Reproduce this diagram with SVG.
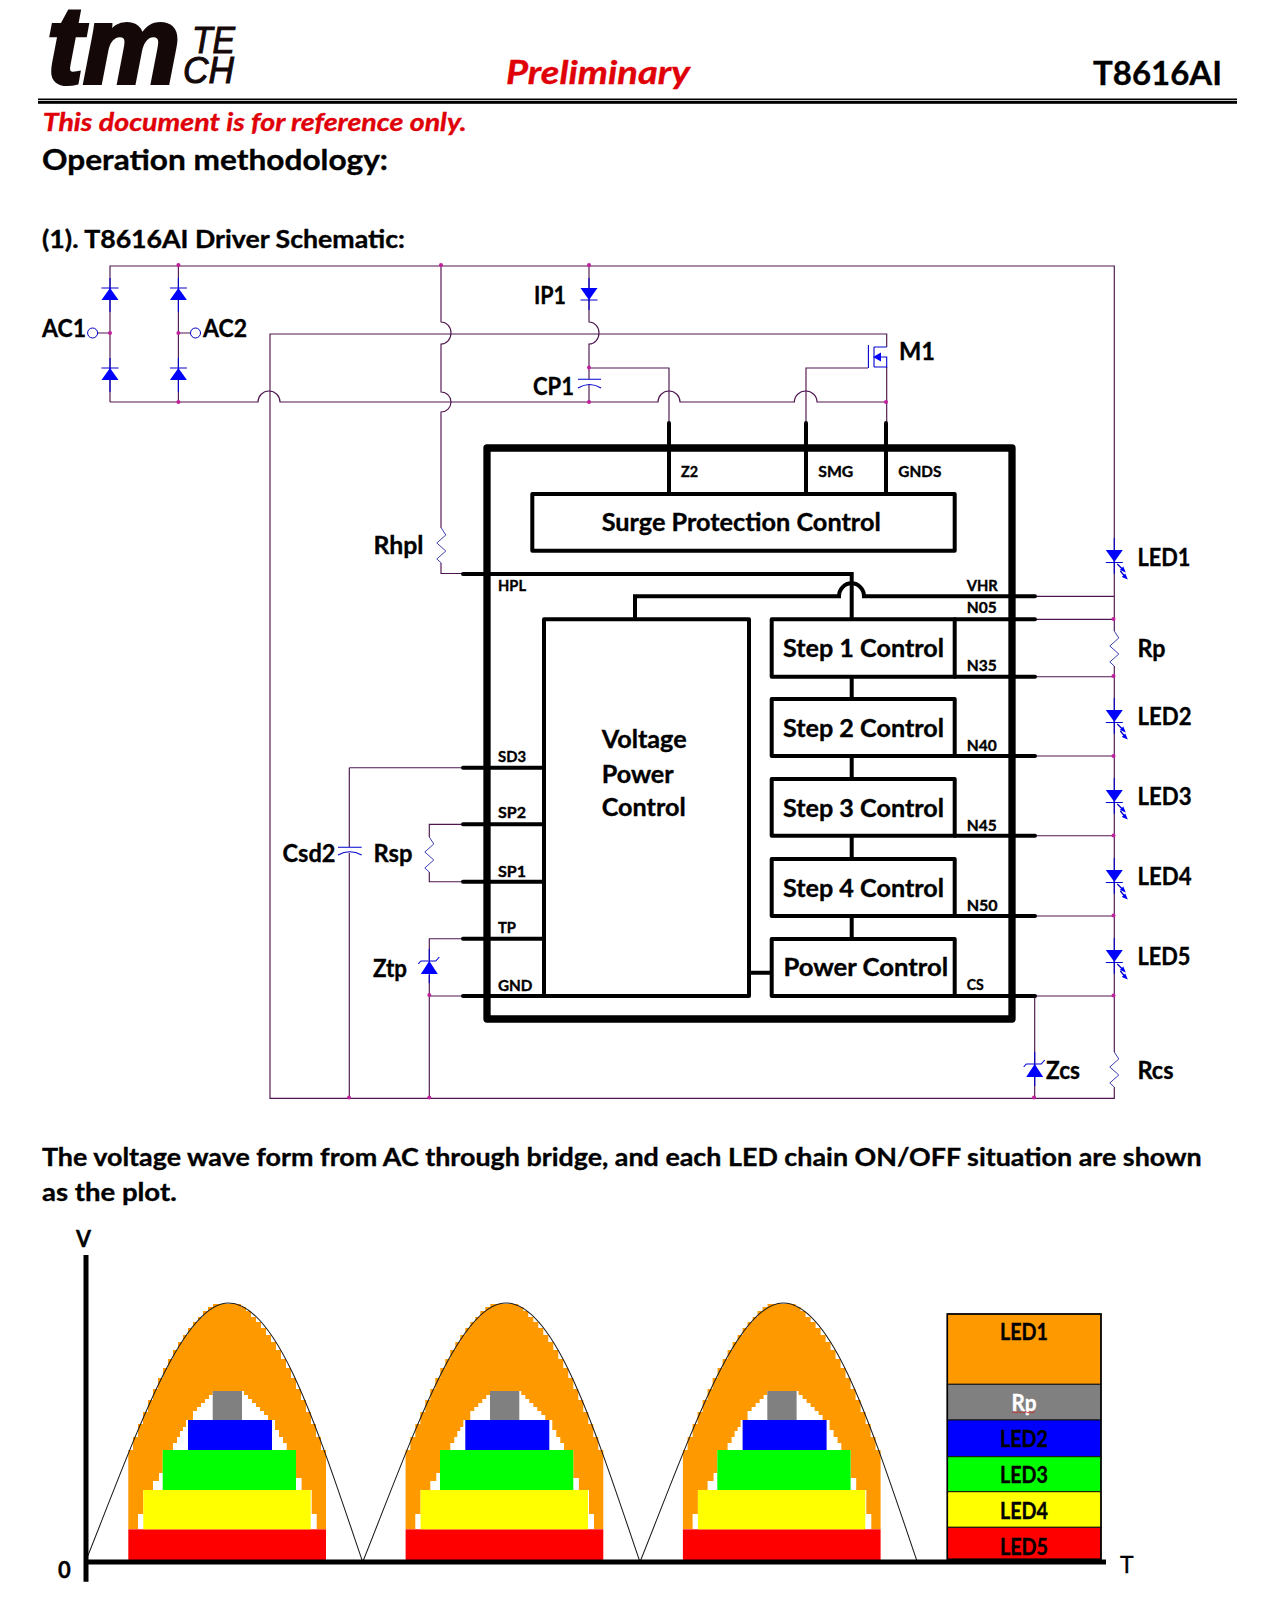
<svg xmlns="http://www.w3.org/2000/svg" xmlns:xlink="http://www.w3.org/1999/xlink" width="1267" height="1620" viewBox="0 0 1267 1620">
<style>
text{font-family:"Lato","Open Sans","Liberation Sans",sans-serif;font-weight:700;fill:#000;stroke:#000;stroke-width:.35px}
.h1{font-size:29px}.h2{font-size:24.5px}.p{font-size:25.5px}.box{font-size:24px}.lab{font-size:24.5px}.pin{font-size:15px}.leg{font-size:22.5px}
.red{fill:#e00008;stroke:#e00008;font-style:italic}
.logo{font-family:"Liberation Sans",sans-serif;font-style:italic;fill:#140808;stroke:#140808}
.w{fill:none;stroke:#4e1650;stroke-width:1.15}
.t{fill:none;stroke:#000;stroke-width:4;stroke-linecap:round}
.b{fill:#fff;stroke:#000;stroke-width:4;stroke-linejoin:round}
.d{fill:none;stroke:#0000d0;stroke-width:1.1}
.f{fill:#0000ff;stroke:none}
.dot{fill:#c0209c}
</style>
<defs>
<path id="res" fill="none" stroke="#2a2aa8" stroke-width=".9" d="M0 0L4.5 7L-4.5 15L4.5 23L-4.5 31L0 35"/>
<g id="du"><path class="d" d="M0 -10V24M-8.5 0H8.5"/><path class="f" d="M0 0L8.5 12H-8.5Z"/></g>
<g id="dd"><path class="d" d="M0 -10V22M-8.5 12H8.5"/><path class="f" d="M-8.5 0H8.5L0 12Z"/></g>
<g id="led"><path class="d" d="M0 -12V24M-8.5 12.5H8.5"/><path fill="none" stroke="#0000c0" stroke-width="1.3" d="M3 14L10 21M6 21L12 28"/><path class="f" d="M-8.5 0H8.5L0 12Z"/><path class="f" d="M11.5 22.5L5.5 20L9 16.5ZM13.5 29.5L7.5 27L11 23.5Z"/></g>
<g id="zen"><path class="d" d="M0 -12V22M-8.5 0H6.5L10 -4M-8.5 0L-11 3"/><path class="f" d="M0 0L8.5 13H-8.5Z"/></g>
<g id="hump">
<path fill="#ff9900" d="M128.3 1529V1450H133V1437H138V1424H143V1412H148V1400H153V1389H158V1378H163V1368H168V1359H173V1350H178V1342H183V1335H188V1328H193V1322H198V1317H203V1311H208V1307H213V1304H241V1307H246V1311H251V1317H256V1322H261V1328H266V1335H271V1342H276V1350H281V1359H286V1368H291V1378H296V1389H301V1400H306V1412H311V1424H316V1437H321V1450H326V1529Z"/>
<path fill="#fff" d="M212.7 1395H209V1399H205V1403H201V1407H197V1411H193V1420H186V1427H183V1431H180V1437H177V1443H173V1450H162.7V1473H159V1481H153V1490H143.3V1514H138V1529H316.7V1514H311.7V1490H301.6V1478H296V1450H286.7V1443H283V1437H279V1430H275V1420H268V1415H264V1411H260V1407H256V1403H252V1399H248V1395H244V1391H212.7Z"/>
<rect x="128.3" y="1529.3" width="197.7" height="31" fill="#ff0000"/>
<rect x="143.3" y="1490" width="167.4" height="39.3" fill="#ffff00"/>
<rect x="162.7" y="1450" width="133.3" height="40" fill="#00ff00"/>
<rect x="188" y="1420" width="84" height="30" fill="#0000ff"/>
<rect x="212.7" y="1391" width="29.3" height="29" fill="#808080"/>
<path fill="none" stroke="#1a1a1a" stroke-width="1.05" d="M85.4 1562C135.4 1437 181 1303 228.5 1303C278 1303 317.7 1430 362.7 1562"/>
</g>
</defs>
<rect width="1267" height="1620" fill="#fff"/>

<g id="header">
<text class="logo" x="47" y="83" font-size="110" stroke-width="4" textLength="133" lengthAdjust="spacingAndGlyphs" style="font-weight:700;stroke-width:4px">tm</text>
<text class="logo" x="192" y="53" font-size="36" textLength="43" lengthAdjust="spacingAndGlyphs" style="font-weight:400;stroke-width:1px">TE</text>
<text class="logo" x="183" y="83" font-size="37" textLength="51" lengthAdjust="spacingAndGlyphs" style="font-weight:400;stroke-width:1px">CH</text>
<text class="red" x="506" y="84.3" font-size="32" textLength="184" lengthAdjust="spacingAndGlyphs">Preliminary</text>
<text x="1093" y="85" font-size="32" textLength="129" lengthAdjust="spacingAndGlyphs">T8616AI</text>
<rect x="38" y="98.5" width="1199" height="1.5" fill="#000"/>
<rect x="38" y="100.8" width="1199" height="3" fill="#000"/>
<text class="red" x="42.7" y="130.7" font-size="25" textLength="424" lengthAdjust="spacingAndGlyphs">This document is for reference only.</text>
<text class="h1" x="42" y="170" textLength="346" lengthAdjust="spacingAndGlyphs">Operation methodology:</text>
<text class="h2" x="42" y="247.5" textLength="363" lengthAdjust="spacingAndGlyphs">(1). T8616AI Driver Schematic:</text>
</g>

<g id="connectors">
<path class="w" d="M110 402V266H1114.3V631M1114.3 666V1052M1114.3 1087V1098.3H270V334H886.7V347"/>
<path class="w" d="M110 402H258A11 11 0 0 1 280 402H658A11 11 0 0 1 680 402H794.4A11.3 11 0 0 1 817 402H886"/>
<path class="w" d="M178.4 266V402"/>
<path class="w" d="M441 266V322A10 11 0 0 1 441 344V392A10 10 0 0 1 441 412V528M441 563V573.5H463"/>
<path class="w" d="M589 266V322A10 11 0 0 1 589 344V379M589 385V402M589 368H669V423M868 368H806V423M886.7 367V423"/>
<path class="w" d="M349.3 767.7H463M349.3 767.7V847M349.3 853V1098"/>
<path class="w" d="M463 824.3H429.3V837M429.3 872V881.7H463M463 938.7H429.3V960M429.3 975V1098M429.3 996H463"/>
<path class="w" d="M1035 596.3H1114M1035 619.3H1114M1035 676.7H1114M1035 756H1114M1035 835.7H1114M1035 916H1114M1035 996H1114M1034.7 996V1098"/>
<path class="w" d="M97 333H110M178.4 333H190"/>
<path class="t" d="M669 423V494M806 423V494M886 423V494"/>
<path class="t" d="M463 574H851.7V619.3M463 767.7H544M463 824.3H544M463 881.7H544M463 938.7H544M463 996H544"/>
<path class="t" d="M635 619.3V596.3H839A12.5 13 0 0 1 864 596.3H1035"/>
<path class="t" d="M954.7 619.3H1035M954.7 676.7H1035M954.7 756H1035M954.7 835.7H1035M954.7 916H1035M954.7 996H1035"/>
<path class="t" d="M851.7 676.7V699M851.7 756V779M851.7 835.7V859M851.7 916V939M749 972.7H771.7"/>
<g class="dot">
<circle cx="178.4" cy="265" r="2"/><circle cx="441" cy="265" r="2"/><circle cx="589" cy="265" r="2"/>
<circle cx="110" cy="333" r="2"/><circle cx="178.4" cy="333" r="2"/><circle cx="178.4" cy="402" r="2"/>
<circle cx="589" cy="367.5" r="2"/><circle cx="589" cy="402" r="2"/><circle cx="886" cy="402" r="2"/>
<circle cx="1113.5" cy="619" r="2"/><circle cx="1113.5" cy="676" r="2"/><circle cx="1113.5" cy="756" r="2"/><circle cx="1113.5" cy="835.5" r="2"/><circle cx="1113.5" cy="915.5" r="2"/><circle cx="1113.5" cy="995.5" r="2"/>
<circle cx="429.3" cy="995" r="2"/><circle cx="349" cy="1097.5" r="2"/><circle cx="429.3" cy="1097.5" r="2"/><circle cx="1034" cy="1097.5" r="2"/>
</g>
</g>

<g id="chip"><rect x="487" y="448" width="525" height="571" fill="none" stroke="#000" stroke-width="7.3" stroke-linejoin="round"/></g>
<g id="surge"><rect class="b" x="532.3" y="494" width="422.4" height="56.7"/><text class="box" x="601.7" y="530.5" textLength="279" lengthAdjust="spacingAndGlyphs">Surge Protection Control</text></g>
<g id="voltage"><rect class="b" x="544" y="619.3" width="205" height="376.7"/>
<text class="box" x="601.7" y="747.8" textLength="85" lengthAdjust="spacingAndGlyphs">Voltage</text>
<text class="box" x="601.7" y="782.5" textLength="72" lengthAdjust="spacingAndGlyphs">Power</text>
<text class="box" x="601.7" y="816.2" textLength="84" lengthAdjust="spacingAndGlyphs">Control</text></g>
<g id="step1"><rect class="b" x="771.7" y="619.3" width="183" height="57.4"/><text class="box" x="783" y="656.7" textLength="161" lengthAdjust="spacingAndGlyphs">Step 1 Control</text></g>
<g id="step2"><rect class="b" x="771.7" y="699" width="183" height="57"/><text class="box" x="783" y="736.7" textLength="161" lengthAdjust="spacingAndGlyphs">Step 2 Control</text></g>
<g id="step3"><rect class="b" x="771.7" y="779" width="183" height="56.7"/><text class="box" x="783" y="816.7" textLength="161" lengthAdjust="spacingAndGlyphs">Step 3 Control</text></g>
<g id="step4"><rect class="b" x="771.7" y="859" width="183" height="57"/><text class="box" x="783" y="896.7" textLength="161" lengthAdjust="spacingAndGlyphs">Step 4 Control</text></g>
<g id="power"><rect class="b" x="771.7" y="939" width="183" height="57"/><text class="box" x="783.5" y="975.7" textLength="164.5" lengthAdjust="spacingAndGlyphs">Power Control</text></g>

<g id="pins">
<text class="pin" x="681" y="476.7" textLength="17" lengthAdjust="spacingAndGlyphs">Z2</text>
<text class="pin" x="818.3" y="476.7" textLength="35" lengthAdjust="spacingAndGlyphs">SMG</text>
<text class="pin" x="898.3" y="476.7" textLength="43" lengthAdjust="spacingAndGlyphs">GNDS</text>
<text class="pin" x="498" y="590.7" textLength="28" lengthAdjust="spacingAndGlyphs">HPL</text>
<text class="pin" x="498" y="761.7" textLength="28" lengthAdjust="spacingAndGlyphs">SD3</text>
<text class="pin" x="498" y="818.3" textLength="28" lengthAdjust="spacingAndGlyphs">SP2</text>
<text class="pin" x="498" y="876.7" textLength="28" lengthAdjust="spacingAndGlyphs">SP1</text>
<text class="pin" x="498" y="932.7" textLength="18" lengthAdjust="spacingAndGlyphs">TP</text>
<text class="pin" x="498" y="990.7" textLength="34.5" lengthAdjust="spacingAndGlyphs">GND</text>
<text class="pin" x="966.7" y="590.7" textLength="31" lengthAdjust="spacingAndGlyphs">VHR</text>
<text class="pin" x="966.7" y="613.3" textLength="30" lengthAdjust="spacingAndGlyphs">N05</text>
<text class="pin" x="966.7" y="670.7" textLength="30" lengthAdjust="spacingAndGlyphs">N35</text>
<text class="pin" x="966.7" y="750.7" textLength="30" lengthAdjust="spacingAndGlyphs">N40</text>
<text class="pin" x="966.7" y="830.7" textLength="30" lengthAdjust="spacingAndGlyphs">N45</text>
<text class="pin" x="966.7" y="910.7" textLength="31" lengthAdjust="spacingAndGlyphs">N50</text>
<text class="pin" x="966.7" y="990" textLength="17" lengthAdjust="spacingAndGlyphs">CS</text>
</g>

<g id="AC1"><circle cx="92.6" cy="333" r="5" fill="#fff" stroke="#0000c0" stroke-width="1"/><text class="lab" x="42" y="337" textLength="44" lengthAdjust="spacingAndGlyphs">AC1</text></g>
<g id="AC2"><circle cx="195.5" cy="333" r="5" fill="#fff" stroke="#0000c0" stroke-width="1"/><text class="lab" x="203" y="337" textLength="44" lengthAdjust="spacingAndGlyphs">AC2</text></g>
<g id="D1"><use href="#du" x="110" y="288"/></g>
<g id="D2"><use href="#du" x="178.4" y="288"/></g>
<g id="D3"><use href="#du" x="110" y="368"/></g>
<g id="D4"><use href="#du" x="178.4" y="368"/></g>
<g id="IP1"><use href="#dd" x="589" y="288"/><text class="lab" x="534" y="303.5" textLength="32" lengthAdjust="spacingAndGlyphs">IP1</text></g>
<g id="CP1"><path class="d" d="M578 379.3H601M578 388Q589.5 381 601 388"/><text class="lab" x="533" y="395" textLength="41" lengthAdjust="spacingAndGlyphs">CP1</text></g>
<g id="M1"><path class="d" d="M868.4 345V368M874 347V367M874 347H886.7M874 367H886.7V357H878"/><path class="f" d="M873 357L881 352.5V361.5Z"/><text class="lab" x="899" y="360" textLength="36" lengthAdjust="spacingAndGlyphs">M1</text></g>
<g id="Rhpl"><use href="#res" x="441.3" y="528"/><text class="lab" x="373.5" y="554" textLength="50" lengthAdjust="spacingAndGlyphs">Rhpl</text></g>
<g id="Csd2"><path class="d" d="M338 847.3H361.7M338 855Q349.8 848.5 361.7 855"/><text class="lab" x="282.5" y="861.7" textLength="53" lengthAdjust="spacingAndGlyphs">Csd2</text></g>
<g id="Rsp"><use href="#res" x="429.3" y="837"/><text class="lab" x="373.5" y="861.7" textLength="39" lengthAdjust="spacingAndGlyphs">Rsp</text></g>
<g id="Ztp"><use href="#zen" x="429.3" y="961"/><text class="lab" x="373" y="976.5" textLength="34" lengthAdjust="spacingAndGlyphs">Ztp</text></g>
<g id="Zcs"><use href="#zen" x="1034.7" y="1064"/><text class="lab" x="1046" y="1078.5" textLength="34" lengthAdjust="spacingAndGlyphs">Zcs</text></g>
<g id="LED1"><use href="#led" x="1114.3" y="550"/><text class="lab" x="1137.5" y="566" textLength="53" lengthAdjust="spacingAndGlyphs">LED1</text></g>
<g id="Rp"><use href="#res" x="1114.3" y="631"/><text class="lab" x="1137.5" y="657" textLength="28" lengthAdjust="spacingAndGlyphs">Rp</text></g>
<g id="LED2"><use href="#led" x="1114.3" y="710"/><text class="lab" x="1137.5" y="725" textLength="54" lengthAdjust="spacingAndGlyphs">LED2</text></g>
<g id="LED3"><use href="#led" x="1114.3" y="790"/><text class="lab" x="1137.5" y="805" textLength="54" lengthAdjust="spacingAndGlyphs">LED3</text></g>
<g id="LED4"><use href="#led" x="1114.3" y="870"/><text class="lab" x="1137.5" y="885" textLength="54" lengthAdjust="spacingAndGlyphs">LED4</text></g>
<g id="LED5"><use href="#led" x="1114.3" y="950"/><text class="lab" x="1137.5" y="965" textLength="53" lengthAdjust="spacingAndGlyphs">LED5</text></g>
<g id="Rcs"><use href="#res" x="1114.3" y="1052"/><text class="lab" x="1137.5" y="1078.5" textLength="36" lengthAdjust="spacingAndGlyphs">Rcs</text></g>

<g id="caption">
<text class="p" x="42" y="1165.5" textLength="1159.7" lengthAdjust="spacingAndGlyphs">The voltage wave form from AC through bridge, and each LED chain ON/OFF situation are shown</text>
<text class="p" x="42" y="1201" textLength="134.7" lengthAdjust="spacingAndGlyphs">as the plot.</text>
</g>

<g id="plot">
<use href="#hump"/>
<use href="#hump" x="277.3"/>
<use href="#hump" x="554.6"/>
<path fill="none" stroke="#000" stroke-width="5" d="M86 1255V1581.7M86 1562H1106"/>
<text x="76" y="1247" font-size="23" textLength="15" lengthAdjust="spacingAndGlyphs">V</text>
<text x="58" y="1578" font-size="22">0</text>
<text x="1120" y="1573" font-size="23" style="font-weight:400">T</text>
</g>

<g id="legend" stroke="#111" stroke-width="1">
<rect x="947.3" y="1314" width="153.7" height="70.3" fill="#ff9900"/>
<rect x="947.3" y="1384.3" width="153.7" height="35.7" fill="#808080"/>
<rect x="947.3" y="1420" width="153.7" height="36.7" fill="#0000ff"/>
<rect x="947.3" y="1456.7" width="153.7" height="35" fill="#00ff00"/>
<rect x="947.3" y="1491.7" width="153.7" height="35.6" fill="#ffff00"/>
<rect x="947.3" y="1527.3" width="153.7" height="32" fill="#ff0000"/>
<rect x="947.3" y="1314" width="153.7" height="245.3" fill="none" stroke="#000" stroke-width="1.6"/>
<g text-anchor="middle">
<text class="leg" x="1024" y="1340" textLength="48" lengthAdjust="spacingAndGlyphs">LED1</text>
<text class="leg" x="1024" y="1410.5" textLength="25" lengthAdjust="spacingAndGlyphs" style="fill:#fff;stroke:#fff">Rp</text>
<text class="leg" x="1024" y="1447" textLength="48" lengthAdjust="spacingAndGlyphs">LED2</text>
<text class="leg" x="1024" y="1483" textLength="48" lengthAdjust="spacingAndGlyphs">LED3</text>
<text class="leg" x="1024" y="1518.5" textLength="48" lengthAdjust="spacingAndGlyphs">LED4</text>
<text class="leg" x="1024" y="1554.5" textLength="48" lengthAdjust="spacingAndGlyphs">LED5</text>
</g>
<path fill="none" stroke="#d02a2a" stroke-width="0.9" d="M1012 1413l2-1.4 2 1.4 2-1.4 2 1.4 2-1.4 2 1.4 2-1.4 2 1.4 2-1.4 2 1.4 2-1.4 1 .7"/>
</g>
</svg>
